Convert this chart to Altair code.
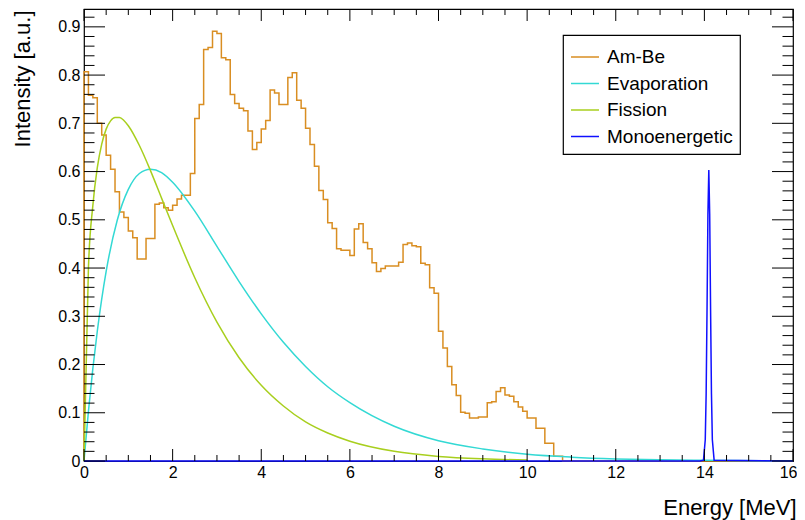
import altair as alt
import pandas as pd

# ---------------- data ----------------
series_names = ["Am-Be", "Evaporation", "Fission", "Monoenergetic"]
series_colors = ["#d98e22", "#33d9d4", "#a8cf1e", "#1010ff"]

# Am-Be histogram: 0.1 MeV bins starting at 0 MeV
ambe_bin_width = 0.1
ambe_values = [0.807, 0.758, 0.753, 0.700, 0.676, 0.634, 0.605, 0.558, 0.516, 0.505,
               0.477, 0.463, 0.419, 0.419, 0.461, 0.461, 0.532, 0.535, 0.525, 0.520,
               0.530, 0.543, 0.551, 0.551, 0.596, 0.710, 0.739, 0.853, 0.857, 0.891,
               0.886, 0.836, 0.832, 0.760, 0.741, 0.731, 0.726, 0.684, 0.646, 0.660,
               0.688, 0.706, 0.769, 0.763, 0.739, 0.739, 0.795, 0.805, 0.748, 0.731,
               0.690, 0.656, 0.611, 0.561, 0.542, 0.494, 0.482, 0.440, 0.437, 0.437,
               0.426, 0.481, 0.492, 0.453, 0.440, 0.411, 0.393, 0.399, 0.404, 0.404,
               0.404, 0.412, 0.449, 0.452, 0.446, 0.444, 0.410, 0.407, 0.359, 0.348,
               0.269, 0.234, 0.196, 0.158, 0.136, 0.101, 0.099, 0.089, 0.089, 0.091,
               0.091, 0.121, 0.123, 0.144, 0.152, 0.137, 0.134, 0.123, 0.112, 0.103,
               0.089, 0.089, 0.068, 0.068, 0.037, 0.037, 0.010, 0.010]

evap_E = [0, 0.1, 0.2, 0.3, 0.5, 0.75, 1.0, 1.25, 1.5, 1.75, 2.0, 2.5, 3.0, 3.5, 4.0,
          4.5, 5.0, 5.5, 6.0, 7.0, 8.0, 9.0, 10.0, 11.0, 12.0, 13.0, 14.0, 16.0]
evap_v = [0, 0.103, 0.192, 0.269, 0.393, 0.499, 0.563, 0.596, 0.605, 0.598, 0.578, 0.518,
          0.445, 0.372, 0.305, 0.246, 0.196, 0.154, 0.121, 0.072, 0.042, 0.025, 0.014,
          0.008, 0.0044, 0.0025, 0.0014, 0.0004]

fission_E = [0, 0.1, 0.2, 0.3, 0.4, 0.5, 0.6, 0.7, 0.8, 0.9, 1.0, 1.25, 1.5, 1.75, 2.0,
             2.5, 3.0, 3.5, 4.0, 4.5, 5.0, 5.5, 6.0, 7.0, 8.0, 9.0, 10.0]
fission_v = [0, 0.400, 0.530, 0.608, 0.657, 0.688, 0.705, 0.712, 0.712, 0.706, 0.695,
             0.654, 0.602, 0.545, 0.488, 0.380, 0.288, 0.214, 0.157, 0.114, 0.081, 0.058,
             0.041, 0.020, 0.0095, 0.0045, 0.0021]

mono_E = [0, 13.9, 13.98, 14.02, 14.04, 14.06, 14.08, 14.1, 14.12, 14.14, 14.16, 14.18, 14.22, 16]
mono_v = [0, 0, 0.0017, 0.044, 0.139, 0.314, 0.512, 0.603, 0.512, 0.314, 0.139, 0.044, 0.0017, 0]

x_major = [0, 2, 4, 6, 8, 10, 12, 14, 16]
x_minor = [i * 0.5 for i in range(33) if i % 4 != 0]
y_major = [0, 0.1, 0.2, 0.3, 0.4, 0.5, 0.6, 0.7, 0.8, 0.9]
y_minor = [round(i * 0.02, 2) for i in range(47) if i % 5 != 0]

# ---------------- tables ----------------
ambe_rows = [{"series": "Am-Be", "E": 0.0, "v": 0.0, "o": 0}]
for i, val in enumerate(ambe_values):
    ambe_rows.append({"series": "Am-Be", "E": round(i * ambe_bin_width, 3), "v": val, "o": i + 1})
n = len(ambe_values)
ambe_rows.append({"series": "Am-Be", "E": round(n * ambe_bin_width, 3), "v": 0.0, "o": n + 1})
ambe_rows.append({"series": "Am-Be", "E": 16.0, "v": 0.0, "o": n + 2})
ambe_df = pd.DataFrame(ambe_rows)

curve_df = pd.concat([
    pd.DataFrame({"series": "Evaporation", "E": evap_E, "v": evap_v}),
    pd.DataFrame({"series": "Fission", "E": fission_E, "v": fission_v}),
])
mono_df = pd.DataFrame({"series": "Monoenergetic", "E": mono_E, "v": mono_v})

W, H = 709, 452
YMAX = 0.937
FONT = "Liberation Sans"

x_scale = alt.Scale(domain=[0, 16], nice=False, zero=False)
y_scale = alt.Scale(domain=[0, YMAX], nice=False, zero=False)

color = alt.Color(
    "series:N",
    scale=alt.Scale(domain=series_names, range=series_colors),
    legend=alt.Legend(
        title=None, orient="none", legendX=479, legendY=26, direction="vertical",
        symbolType="stroke", symbolSize=784, symbolStrokeWidth=1.5,
        labelFontSize=19, labelFont=FONT, labelColor="black", labelOffset=7,
        padding=7, strokeColor="black", fillColor="white", rowPadding=1.5,
    ),
)

x_axis = alt.Axis(
    values=x_major, ticks=False, tickSize=0, domain=False, grid=False,
    labelFontSize=16, labelFont=FONT, labelColor="black", labelPadding=3,
    labelFlush=False, labelBaseline="top",
    labelAlign={"condition": {"test": "datum.value == 16", "value": "right"}, "value": "center"},
    labelOffset={"condition": {"test": "datum.value == 16", "value": 4}, "value": 0},
    title="Energy [MeV]", titleFontSize=22, titleFont=FONT, titleFontWeight="normal",
    titleColor="black", titleAlign="right", titleAnchor="end", titleX=W + 3, titleY=53,
    titleBaseline="alphabetic",
)
y_axis = alt.Axis(
    values=y_major, ticks=False, tickSize=0, domain=False, grid=False,
    labelFontSize=16, labelFont=FONT, labelColor="black", labelPadding=4,
    labelExpr="datum.value == 0 ? '0' : format(datum.value, '.1f')",
    title="Intensity [a.u.]", titleFontSize=22, titleFont=FONT, titleFontWeight="normal",
    titleColor="black", titleAlign="right", titleAngle=270, titleX=-55, titleY=1,
    titleBaseline="alphabetic",
)

X = alt.X("E:Q", scale=x_scale, axis=x_axis)
Y = alt.Y("v:Q", scale=y_scale, axis=y_axis)

ambe = alt.Chart(ambe_df).mark_line(interpolate="step-after", strokeWidth=1.5).encode(
    x=X, y=Y, color=color, order="o:Q",
)
curves = alt.Chart(curve_df).mark_line(interpolate="monotone", strokeWidth=1.5).encode(
    x=X, y=Y, color=color,
)
mono = alt.Chart(mono_df).mark_line(strokeWidth=1.5).encode(
    x=X, y=Y, color=color,
)

def xticks(vals, y0, y1):
    return alt.Chart(pd.DataFrame({"E": vals})).mark_rule(color="black", strokeWidth=1).encode(
        x=X, y=alt.value(y0), y2=alt.value(y1))

def yticks(vals, x0, x1):
    return alt.Chart(pd.DataFrame({"v": vals})).mark_rule(color="black", strokeWidth=1).encode(
        y=Y, x=alt.value(x0), x2=alt.value(x1))

ticks = [
    xticks(x_major, H, H - 12), xticks(x_minor, H, H - 6),
    xticks(x_major, 0, 12), xticks(x_minor, 0, 6),
    yticks(y_major, 0, 21), yticks(y_minor, 0, 10.5),
    yticks(y_major, W - 21, W), yticks(y_minor, W - 10.5, W),
]

chart = alt.layer(ambe, curves, mono, *ticks).properties(
    width=W, height=H,
    autosize=alt.AutoSizeParams(type="none"),
    padding={"left": 76, "top": 1, "right": 4, "bottom": 59},
).configure_view(stroke="black", strokeWidth=1.2).configure_legend(strokeWidth=1.2)

chart.save("out.html", embed_options={"renderer": "svg", "actions": False})
